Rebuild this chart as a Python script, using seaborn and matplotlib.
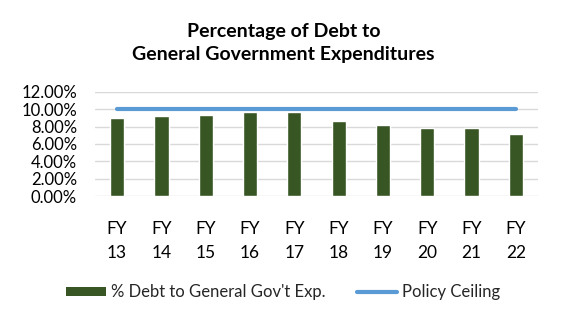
import matplotlib
matplotlib.use("Agg")
import matplotlib.pyplot as plt
import seaborn as sns
import pandas as pd
from matplotlib.lines import Line2D
from matplotlib.patches import Patch

years = ["FY\n13", "FY\n14", "FY\n15", "FY\n16", "FY\n17", "FY\n18", "FY\n19", "FY\n20", "FY\n21", "FY\n22"]
debt_pct = [0.0903, 0.0926, 0.0938, 0.0965, 0.0965, 0.0869, 0.0823, 0.0788, 0.0784, 0.0719]
ceiling = [0.10] * 10
yticks = [0.0, 0.02, 0.04, 0.06, 0.08, 0.10, 0.12]

sns.set_theme(style="white")
plt.rcParams["font.family"] = ["Lato", "DejaVu Sans"]

bar_color = "#375623"
line_color = "#5B9BD5"

fig = plt.figure(figsize=(5.61, 3.22), dpi=100)
ax = fig.add_axes([0.1693, 0.3913, 0.7897, 0.3230])

df = pd.DataFrame({"year": years, "debt": debt_pct})
sns.barplot(data=df, x="year", y="debt", color=bar_color, width=0.32,
            saturation=1, ax=ax, zorder=2)
ax.plot(range(len(years)), ceiling, color=line_color, lw=3.0,
        solid_capstyle="round", zorder=3)

ax.set_xlim(-0.5, len(years) - 0.5)
ax.set_ylim(0, 0.12)
ax.set_yticks(yticks)
ax.set_yticklabels([f"{v*100:.2f}%" for v in yticks], fontsize=12, color="#000000")
ax.grid(axis="y", color="#D9D9D9", lw=1.0, zorder=0)
ax.set_axisbelow(True)
ax.set_xlabel("")
ax.set_ylabel("")
for s in ax.spines.values():
    s.set_visible(False)
ax.tick_params(axis="both", length=0)
ax.tick_params(axis="y", pad=13)
ax.tick_params(axis="x", pad=18)
for lbl in ax.get_xticklabels():
    lbl.set_fontsize(12.5)
    lbl.set_linespacing(1.6)
    lbl.set_color("#000000")

fig.text(0.505, 0.866, "Percentage of Debt to\nGeneral Government Expenditures",
         ha="center", va="center", fontsize=14, fontweight="bold",
         linespacing=1.45, color="#000000")

handles = [Patch(facecolor=bar_color, edgecolor="none"),
           Line2D([0], [0], color=line_color, lw=3.0, solid_capstyle="round")]
fig.legend(handles, ["% Debt to General Gov't Exp.", "Policy Ceiling"],
           loc="center", bbox_to_anchor=(0.505, 0.093), ncol=2, frameon=False,
           fontsize=12, handlelength=2.4, handleheight=0.45, handletextpad=0.3,
           columnspacing=1.9)

fig.savefig("out.png", dpi=100, facecolor="white")
